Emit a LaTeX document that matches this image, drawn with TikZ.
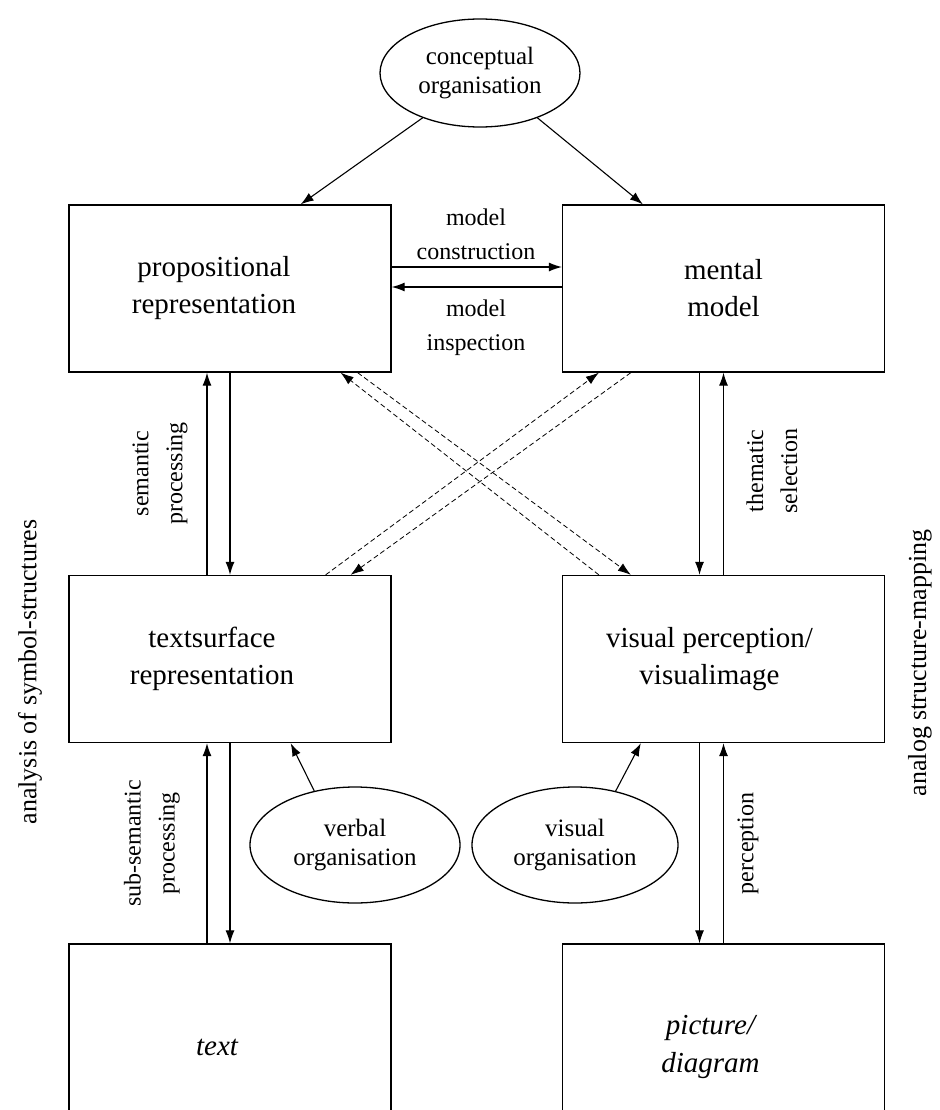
\documentclass[tikz,border=0pt]{standalone}
\usepackage{fontspec}
\setmainfont{Liberation Serif}
\usetikzlibrary{arrows.meta,shapes.geometric,calc}
\begin{document}
\begin{tikzpicture}[x=1pt,y=-1pt,
 box/.style={draw,line width=1.3pt,minimum width=322pt,minimum height=167pt,inner sep=0pt},
 btext/.style={align=center,font=\fontsize{29}{37}\selectfont,inner sep=0pt},
 oval/.style={draw,ellipse,line width=1.3pt,align=center,font=\fontsize{25}{29}\selectfont,inner sep=0pt},
 arr/.style={line width=1.1pt,-{Latex[length=13pt,width=9pt]}},
 darr/.style={line width=0.8pt,dash pattern=on 5pt off 3pt,-{Latex[length=13pt,width=9pt]}},
 lab/.style={align=center,font=\fontsize{24}{34}\selectfont,inner sep=0pt},
 side/.style={font=\fontsize{26}{30}\selectfont,inner sep=0pt},
]
\useasboundingbox (0,0) rectangle (939,1110);
\clip (0,0) rectangle (939,1110);

\node[box] (prop) at (230,288.5) {};
\node[box] (mental) at (723.5,288.5) {};
\node[box] (ts) at (230,659) {};
\node[box] (vp) at (723.5,659) {};
\node[box,minimum height=206pt] (txt) at (230,1047) {};
\node[box,minimum height=206pt] (pic) at (723.5,1047) {};

\node[btext] (propt) at ([xshift=-16pt]prop.center) {propositional\\representation};
\node[btext] (mentalt) at (mental.center) {mental\\model};
\node[btext] (tst) at ([xshift=-18pt]ts.center) {textsurface\\representation};
\node[btext] (vpt) at ([xshift=-14pt]vp.center) {visual perception/\\visualimage};
\node[btext,font=\fontsize{29}{38}\selectfont\itshape] (txtt) at ([xshift=-13pt]txt.center) {text};
\node[btext,font=\fontsize{29}{38}\selectfont\itshape] (pict) at ([xshift=-13pt]pic.center) {picture/\\diagram};

\node[oval,minimum width=200pt,minimum height=108pt] (concept) at (480,73) {conceptual\\organisation};
\node[oval,minimum width=210pt,minimum height=116pt] (verbal) at (355,845) {verbal\\organisation};
\node[oval,minimum width=206pt,minimum height=116pt] (visual) at (575,845) {visual\\organisation};

\draw[arr] (concept.218) -- ([xshift=-91pt]prop.north east);
\draw[arr] (concept.322) -- ([xshift=81pt]mental.north west);

\draw[arr] ([yshift=21.5pt]prop.east) -- ([yshift=21.5pt]mental.west);
\draw[arr] ([yshift=1.5pt]mental.west) -- ([yshift=1.5pt]prop.east);
\node[lab] (mc) at (476,234) {model\\construction};
\node[lab] (mi) at (476,328) {model\\inspection};

\draw[arr] (prop.south) -- (ts.north);
\draw[arr] ([xshift=-23pt]ts.north) -- ([xshift=-23pt]prop.south);
\draw[arr] ([xshift=-24pt]mental.south) -- ([xshift=-24pt]vp.north);
\draw[arr] (vp.north) -- (mental.south);

\draw[arr] ([xshift=-23pt]txt.north) -- ([xshift=-23pt]ts.south);
\draw[arr] (ts.south) -- (txt.north);
\draw[arr] ([xshift=-24pt]vp.south) -- ([xshift=-24pt]pic.north);
\draw[arr] (pic.north) -- (vp.south);

\node[lab,rotate=90] (sp) at (160,473.5) {semantic\\processing};
\node[lab,rotate=90] (ths) at (772,471) {thematic\\selection};
\node[lab,rotate=90] (ssp) at (152,843.5) {sub-semantic\\processing};
\node[lab,rotate=90] (per) at (748,843.5) {perception};

\node[side,rotate=90] (lside) at (30,672) {analysis of symbol-structures};
\node[side,rotate=90] (rside) at (920,663) {analog structure-mapping};

\draw[darr] ([xshift=37pt]vp.north west) -- ([xshift=-51pt]prop.south east);
\draw[darr] ([xshift=-34pt]prop.south east) -- ([xshift=69pt]vp.north west);
\draw[darr] ([xshift=-66pt]ts.north east) -- ([xshift=37pt]mental.south west);
\draw[darr] ([xshift=69pt]mental.south west) -- ([xshift=-41pt]ts.north east);

\draw[arr] (verbal.127) -- ([xshift=-101pt]ts.south east);
\draw[arr] (visual.53) -- ([xshift=79pt]vp.south west);
\end{tikzpicture}
\end{document}
